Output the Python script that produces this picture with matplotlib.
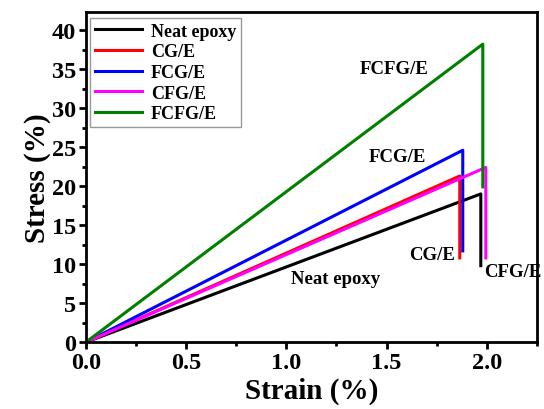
import matplotlib
matplotlib.use("Agg")
import matplotlib.pyplot as plt
from matplotlib.ticker import MultipleLocator

plt.rcParams['font.family'] = ['Liberation Serif', 'DejaVu Serif']
plt.rcParams['font.weight'] = 'bold'

labels = ["Neat epoxy", "CG/E", "FCG/E", "CFG/E", "FCFG/E"]
colors = ["black", "red", "blue", "magenta", "green"]
peak_strain = [1.97, 1.865, 1.88, 1.995, 1.98]
peak_stress = [19.0, 21.3, 24.6, 22.4, 38.2]
break_stress = [9.8, 10.8, 11.7, 10.8, 19.9]

ann_text = ["Neat epoxy", "CG/E", "FCG/E", "CFG/E", "FCFG/E"]
ann_x = [1.245, 1.725, 1.555, 2.13, 1.54]
ann_y = [8.1, 11.3, 23.8, 9.1, 35.1]

fig = plt.figure(figsize=(5.44, 4.10), dpi=100)
ax = fig.add_axes([0.158, 0.163, 0.829, 0.805])

for lab, c, xs, ys, yb in zip(labels, colors, peak_strain, peak_stress, break_stress):
    ax.plot([0, xs, xs], [0, ys, yb], color=c, lw=2.2, label=lab)

for t, x, y in zip(ann_text, ann_x, ann_y):
    ax.text(x, y, t, ha='center', va='center', fontsize=13.5, fontweight='bold')

ax.set_xlim(0, 2.25)
ax.set_ylim(0, 42.3)
ax.xaxis.set_major_locator(MultipleLocator(0.5))
ax.xaxis.set_minor_locator(MultipleLocator(0.25))
ax.yaxis.set_major_locator(MultipleLocator(5))
ax.yaxis.set_minor_locator(MultipleLocator(2.5))
ax.tick_params(which='major', direction='out', length=5, width=2, labelsize=17.5, pad=2)
ax.tick_params(which='minor', direction='out', length=3, width=2)
for s in ax.spines.values():
    s.set_linewidth(2)
for lab in ax.get_xticklabels() + ax.get_yticklabels():
    lab.set_fontweight('bold')

ax.set_xlabel("Strain (%)", fontsize=21, fontweight='bold', labelpad=3)
ax.set_ylabel("Stress (%)", fontsize=21, fontweight='bold', labelpad=1)

leg = ax.legend(loc='upper left', bbox_to_anchor=(0.0, 0.995), fontsize=13,
                frameon=True, fancybox=False, edgecolor='gray',
                handlelength=2.6, handletextpad=0.5, borderpad=0.25,
                labelspacing=0.2, borderaxespad=0.25)
leg.get_frame().set_linewidth(1)
for t in leg.get_texts():
    t.set_fontweight('bold')

fig.savefig("out.png", dpi=100)
